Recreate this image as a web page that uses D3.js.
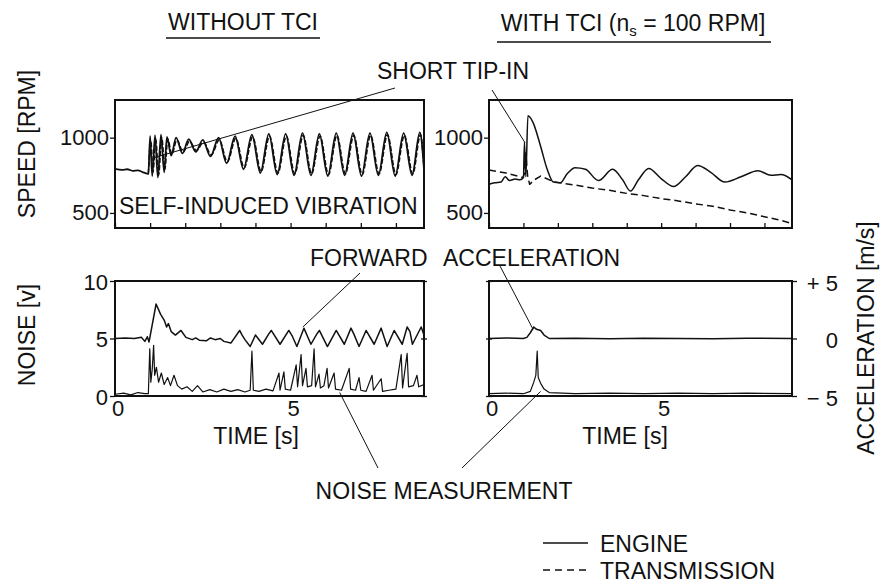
<!DOCTYPE html>
<html lang="en">
<head>
<meta charset="UTF-8">
<title>TCI speed and noise</title>
<script src="https://d3js.org/d3.v7.min.js"></script>
<style>
  body { margin: 0; background: #fff; }
  svg text { font-family: "Liberation Sans", Arial, sans-serif; fill: #111; }
</style>
</head>
<body>
<div id="chart"></div>
<script>
// time values in seconds, speed in RPM, noise in V, acceleration in m/s2
const speedTicks = [500, 1000];
const noiseTicks = [0, 5, 10];
const accTicks = [-5, 0, 5];
const accTickLabels = ["\u2212 5", "0", "+ 5"];
const timeTicks = [0, 1, 2, 3, 4, 5, 6, 7, 8];
const timeLabels = [0, 5];

const leftSpeedEngine = [
  [0, 792], [0.2, 786], [0.35, 790], [0.5, 780], [0.65, 783], [0.8, 770], [0.9, 762], [0.95, 758],
  [1.0, 1010], [1.06, 745], [1.14, 1015], [1.22, 735], [1.31, 1020], [1.4, 770], [1.48, 1005],
  [1.6, 880], [1.74, 1000], [1.92, 895], [2.1, 990], [2.3, 905], [2.5, 985], [2.72, 875],
  [2.95, 1000], [3.18, 830], [3.42, 1010], [3.66, 790], [3.9, 1020], [4.14, 765], [4.38, 1025],
  [4.62, 755], [4.86, 1025], [5.1, 750], [5.34, 1030], [5.58, 750], [5.82, 1025], [6.06, 745],
  [6.3, 1030], [6.54, 750], [6.78, 1030], [7.02, 745], [7.26, 1030], [7.5, 750], [7.74, 1035],
  [7.98, 745], [8.22, 1030], [8.46, 750], [8.68, 1035], [8.8, 790]
];
const leftSpeedTrans = [
  [0.95, 760], [1.02, 980], [1.08, 770], [1.16, 990], [1.24, 750], [1.33, 1000], [1.42, 790],
  [1.5, 990], [1.62, 890], [1.76, 985], [1.94, 905], [2.12, 975], [2.32, 915], [2.52, 970],
  [2.74, 885], [2.97, 985], [3.2, 840], [3.44, 995], [3.68, 800], [3.92, 1005], [4.16, 775],
  [4.4, 1010], [4.64, 765], [4.88, 1010], [5.12, 760], [5.36, 1015], [5.6, 760], [5.84, 1010],
  [6.08, 755], [6.32, 1015], [6.56, 760], [6.8, 1015], [7.04, 755], [7.28, 1015], [7.52, 760],
  [7.76, 1020], [8.0, 755], [8.24, 1015], [8.48, 760], [8.7, 1020], [8.8, 800]
];
const rightSpeedEngine = [
  [0, 690], [0.17, 700], [0.35, 705], [0.47, 740], [0.6, 715], [0.76, 725], [0.9, 720], [1.0, 735],
  [1.03, 970], [1.07, 740], [1.13, 1145], [1.28, 1100], [1.49, 950], [1.69, 790], [1.87, 705],
  [2.07, 700], [2.27, 760], [2.5, 800], [2.8, 790], [3.18, 715], [3.59, 790], [3.88, 720],
  [4.11, 645], [4.34, 720], [4.64, 795], [4.99, 730], [5.36, 675], [5.71, 740], [6.06, 815],
  [6.44, 770], [6.85, 705], [7.32, 740], [7.81, 780], [8.19, 750], [8.48, 755], [8.8, 720]
];
const rightSpeedTrans = [
  [0, 785], [0.5, 765], [0.98, 735], [1.03, 760], [1.07, 900], [1.12, 750], [1.18, 690],
  [1.32, 720], [1.5, 745], [1.9, 705], [2.5, 685], [3, 665], [3.5, 650], [4, 630], [4.5, 615],
  [5, 595], [5.5, 580], [6, 560], [6.5, 545], [7, 520], [7.5, 500], [8, 475], [8.4, 455], [8.8, 430]
];
const leftAccel = [
  [0, 5.0], [0.3, 5.05], [0.55, 5.0], [0.75, 5.1], [0.85, 4.75], [0.92, 5.15], [0.97, 4.7],
  [1.17, 8.0], [1.3, 7.1], [1.4, 6.6], [1.47, 6.0], [1.52, 6.3], [1.6, 5.6], [1.72, 5.3],
  [1.88, 5.7], [2.02, 5.1], [2.2, 4.9], [2.3, 5.05], [2.4, 4.85], [2.6, 4.8], [2.72, 5.05],
  [2.85, 4.9], [3.0, 5.0], [3.1, 4.75], [3.3, 4.6], [3.55, 5.7], [3.62, 5.3], [3.7, 4.9],
  [3.85, 4.3], [4.0, 5.3], [4.2, 4.5], [4.38, 5.4], [4.45, 5.7], [4.7, 4.5], [4.95, 5.7],
  [5.05, 5.2], [5.18, 4.3], [5.38, 5.9], [5.58, 4.5], [5.75, 5.4], [5.82, 5.7], [6.05, 4.3],
  [6.3, 5.7], [6.53, 4.5], [6.72, 5.9], [6.8, 5.4], [6.95, 4.3], [7.15, 5.7], [7.38, 4.5],
  [7.58, 5.9], [7.75, 4.3], [7.95, 5.7], [8.18, 4.5], [8.32, 6.0], [8.4, 5.6], [8.47, 4.5],
  [8.72, 6.0], [8.8, 5.3]
];
const leftNoise = [
  [0, 0.15], [0.25, 0.25], [0.45, 0.1], [0.65, 0.3], [0.85, 0.2], [0.95, 0.2], [0.99, 4.1],
  [1.02, 1.2], [1.06, 2.3], [1.1, 4.4], [1.13, 1.8], [1.18, 2.5], [1.24, 1.2], [1.32, 2.0],
  [1.4, 1.0], [1.5, 1.6], [1.58, 0.9], [1.68, 1.8], [1.78, 0.9], [1.9, 0.6], [2.05, 0.8],
  [2.2, 0.4], [2.35, 0.9], [2.5, 0.35], [2.7, 0.55], [2.9, 0.35], [3.1, 0.6], [3.3, 0.4],
  [3.5, 0.55], [3.7, 0.35], [3.85, 0.5], [3.9, 3.9], [3.94, 0.5], [4.1, 0.4], [4.3, 0.6],
  [4.5, 0.45], [4.67, 2.0], [4.7, 0.5], [4.81, 2.1], [4.85, 0.6], [5.0, 0.5], [5.16, 2.7],
  [5.2, 0.8], [5.3, 3.6], [5.34, 0.9], [5.44, 2.4], [5.48, 0.8], [5.6, 0.9], [5.67, 4.1],
  [5.71, 0.8], [5.81, 1.9], [5.85, 0.7], [5.95, 0.9], [6.04, 2.4], [6.08, 0.7], [6.24, 2.0],
  [6.28, 0.6], [6.45, 0.5], [6.67, 2.4], [6.71, 0.6], [6.85, 0.5], [6.95, 1.6], [7.0, 0.5],
  [7.15, 0.4], [7.32, 1.8], [7.36, 0.5], [7.58, 1.5], [7.62, 0.4], [7.8, 0.5], [8.0, 0.6],
  [8.15, 3.6], [8.19, 0.7], [8.32, 3.7], [8.36, 0.8], [8.5, 0.9], [8.6, 1.8], [8.65, 0.8], [8.8, 1.0]
];
const rightAccel = [
  [0, 0], [0.5, 0.05], [1.0, 0], [1.1, 0.1], [1.2, 0.5], [1.3, 1.0], [1.38, 0.8], [1.5, 0.7],
  [1.6, 0.3], [1.75, 0], [2.5, 0.02], [3.5, -0.02], [4.5, 0.03], [5.5, 0], [6.5, -0.03],
  [7.5, 0.02], [8.8, 0]
];
const rightNoise = [
  [0, -4.8], [0.5, -4.75], [1.0, -4.8], [1.2, -4.6], [1.3, -3.8], [1.36, -3.2], [1.4, -1.1],
  [1.43, -3.4], [1.5, -3.9], [1.6, -4.4], [1.75, -4.7], [2.5, -4.8], [3.5, -4.75], [4.5, -4.8],
  [5.5, -4.75], [6.5, -4.8], [7.5, -4.75], [8.8, -4.8]
];

const W = 884, H = 585;
const FS = 23;
const svg = d3.select("#chart").append("svg").attr("width", W).attr("height", H);

const xL = d3.scaleLinear().domain([0, 8.8]).range([115, 424]);
const xR = d3.scaleLinear().domain([0, 8.8]).range([489, 792]);
const ySpeed = d3.scaleLinear().domain([400, 1250]).range([228, 100]);
const yNoise = d3.scaleLinear().domain([0, 10]).range([396, 281]);
const yAcc = d3.scaleLinear().domain([-5, 5]).range([396, 281]);

function label(x, y, txt, anchor, rot, size) {
  const t = svg.append("text")
    .attr("font-size", size || FS)
    .attr("text-anchor", anchor || "middle")
    .attr("dominant-baseline", "central")
    .text(txt);
  if (rot) t.attr("transform", `translate(${x},${y}) rotate(${rot})`);
  else t.attr("x", x).attr("y", y);
  return t;
}

function frame(x, y) {
  svg.append("rect")
    .attr("x", x.range()[0]).attr("y", y.range()[1])
    .attr("width", x.range()[1] - x.range()[0])
    .attr("height", y.range()[0] - y.range()[1])
    .attr("fill", "none").attr("stroke", "#111").attr("stroke-width", 2);
}

function series(x, y, data, dash, width, curve) {
  const line = d3.line().x(d => x(d[0])).y(d => y(d[1])).curve(curve || d3.curveLinear);
  svg.append("path").datum(data)
    .attr("d", line)
    .attr("fill", "none")
    .attr("stroke", "#111")
    .attr("stroke-width", width || 1.5)
    .attr("stroke-linejoin", "round")
    .attr("stroke-dasharray", dash || null);
}

function styleAxis(g) {
  g.select(".domain").remove();
  g.selectAll("line").attr("stroke", "#111").attr("stroke-width", 1.3);
  g.selectAll("text").remove();
}

// time ticks inside the speed panels
[xL, xR].forEach(x => {
  svg.append("g").attr("transform", `translate(0,${ySpeed.range()[0]})`)
    .call(d3.axisBottom(x).tickValues(timeTicks).tickSize(-5)).call(styleAxis);
});
// speed ticks
[xL, xR].forEach(x => {
  svg.append("g").attr("transform", `translate(${x.range()[0]},0)`)
    .call(d3.axisLeft(ySpeed).tickValues(speedTicks).tickSize(5)).call(styleAxis);
  speedTicks.forEach(v => label(x.range()[0] - 6, ySpeed(v), String(v), "end", 0, 22));
});
// noise ticks
svg.append("g").attr("transform", `translate(${xL.range()[0]},0)`)
  .call(d3.axisLeft(yNoise).tickValues(noiseTicks).tickSize(5)).call(styleAxis);
svg.append("g").attr("transform", `translate(${xL.range()[1] + 3},0)`)
  .call(d3.axisLeft(yNoise).tickValues(noiseTicks).tickSize(6)).call(styleAxis);
noiseTicks.forEach(v => label(xL.range()[0] - 7, yNoise(v) + 1, String(v), "end", 0, 22));
// acceleration ticks on the right
svg.append("g").attr("transform", `translate(${xR.range()[1]},0)`)
  .call(d3.axisRight(yAcc).tickValues(accTicks).tickSize(5)).call(styleAxis);
svg.append("g").attr("transform", `translate(${xR.range()[0] - 3},0)`)
  .call(d3.axisRight(yAcc).tickValues(accTicks).tickSize(6)).call(styleAxis);
accTicks.forEach((v, i) => label(838, yAcc(v) + 2, accTickLabels[i], "end", 0, 22));
// time labels under bottom panels
[xL, xR].forEach(x => {
  timeLabels.forEach(v => label(x(v) + 3, 408, String(v), "middle", 0, 22));
});
label(256, 436, "TIME [s]");
label(625, 436, "TIME [s]");

frame(xL, ySpeed); frame(xR, ySpeed); frame(xL, yNoise); frame(xR, yAcc);

series(xL, ySpeed, leftSpeedTrans, "5,2", 1.6, d3.curveMonotoneX);
series(xL, ySpeed, leftSpeedEngine, null, 1.8, d3.curveMonotoneX);
series(xR, ySpeed, rightSpeedTrans, "7,4", 1.5);
series(xR, ySpeed, rightSpeedEngine, null, 1.5, d3.curveMonotoneX);
series(xL, yNoise, leftAccel, null, 1.5);
series(xL, yNoise, leftNoise, null, 1.2);
series(xR, yAcc, rightAccel, null, 1.5);
series(xR, yAcc, rightNoise, null, 1.2);

// titles
label(243, 22, "WITHOUT TCI");
svg.append("line").attr("x1", 166).attr("x2", 320).attr("y1", 38).attr("y2", 38)
  .attr("stroke", "#111").attr("stroke-width", 1.5);
const t2 = svg.append("text").attr("x", 633).attr("y", 31).attr("font-size", FS)
  .attr("text-anchor", "middle");
t2.append("tspan").text("WITH TCI (n");
t2.append("tspan").attr("font-size", 15).attr("dy", 5).text("s");
t2.append("tspan").attr("dy", -5).text(" = 100 RPM]");
svg.append("line").attr("x1", 497).attr("x2", 771).attr("y1", 42).attr("y2", 42)
  .attr("stroke", "#111").attr("stroke-width", 1.5);

// axis titles
label(27, 144, "SPEED [RPM]", "middle", -90);
label(27, 335, "NOISE [v]", "middle", -90);
label(866, 338, "ACCELERATION [m/s]", "middle", -90);

// annotations
label(453, 71, "SHORT TIP-IN");
label(119, 206, "SELF-INDUCED VIBRATION", "start");
label(310, 258, "FORWARD", "start");
label(443, 258, "ACCELERATION", "start");
label(444, 491, "NOISE MEASUREMENT");

function leader(x1, y1, x2, y2) {
  svg.append("line").attr("x1", x1).attr("y1", y1).attr("x2", x2).attr("y2", y2)
    .attr("stroke", "#111").attr("stroke-width", 1);
}
leader(395, 88, xL(1.08), ySpeed(865));
leader(492, 90, xR(1.05), ySpeed(965));
leader(360, 273, xL(5.35), yNoise(6.0));
leader(500, 266, xR(1.28), yAcc(0.8));
leader(378, 468, xL(6.4), yNoise(0.3));
leader(462, 468, xR(1.5), yAcc(-4.6));

// legend
svg.append("line").attr("x1", 543).attr("x2", 588).attr("y1", 543).attr("y2", 543)
  .attr("stroke", "#111").attr("stroke-width", 1.5);
svg.append("line").attr("x1", 543).attr("x2", 590).attr("y1", 570).attr("y2", 570)
  .attr("stroke", "#111").attr("stroke-width", 1.5).attr("stroke-dasharray", "7,5");
label(600, 544, "ENGINE", "start");
label(600, 571, "TRANSMISSION", "start");
</script>
</body>
</html>
